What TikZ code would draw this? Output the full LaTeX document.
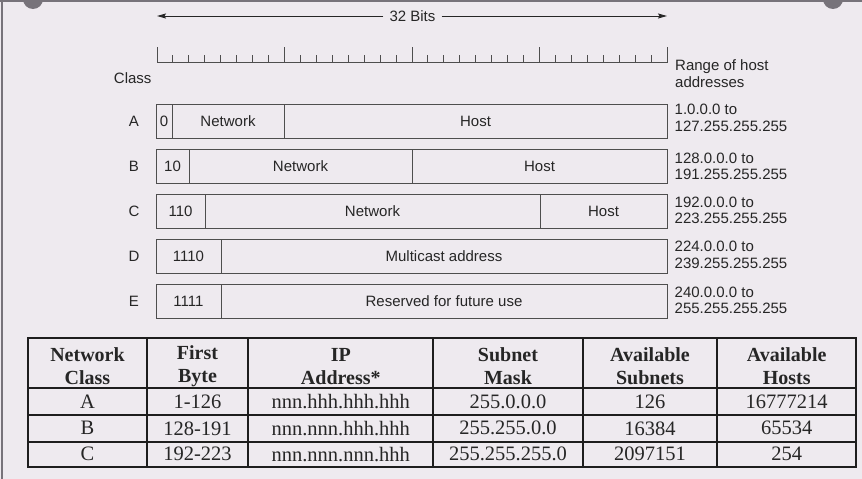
\documentclass[tikz,border=0pt]{standalone}
\usepackage{fontspec}
\setmainfont{Liberation Serif}
\newfontfamily\sansf{Liberation Sans}
\usetikzlibrary{arrows.meta}
\definecolor{bg}{HTML}{EEEAEF}
\definecolor{frame}{HTML}{77737A}
\definecolor{ink}{HTML}{262626}
\definecolor{boxline}{HTML}{4E4E4E}
\definecolor{tabline}{HTML}{1E1E1E}
\begin{document}
\begin{tikzpicture}[x=1pt,y=-1pt,
  lbl/.style={font=\sansf\fontsize{15}{16.6}\selectfont, text=ink, inner sep=0pt},
  field/.style={lbl, draw=boxline, line width=1pt, minimum height=34pt, outer sep=0pt, anchor=west},
  rulerline/.style={draw=boxline, line width=1pt},
  arrowline/.style={draw=ink, line width=0.9pt, -{Stealth[length=9pt,width=5pt,inset=1.5pt]}},
  cell/.style={font=\fontsize{20.5}{22.5}\selectfont, text=ink, inner sep=0pt, align=center},
  head/.style={cell, font=\bfseries\fontsize{20}{22.5}\selectfont},
  tline/.style={draw=tabline, line width=2pt, line cap=rect},
  ]
% background and frame
\useasboundingbox (0,0) rectangle (862,479);
\fill[bg] (0,0) rectangle (862,479);
\draw[frame, line width=2pt] (0,0.5) -- (862,0.5);
\draw[frame, line width=1.6pt] (2.2,0) -- (2.2,479);
\fill[frame] (33,-1) circle (10);
\fill[frame] (833,-1) circle (10);

% 32 bits arrow
\node[lbl, fill=bg, inner xsep=6pt] (bits) at (412.5,16) {32 Bits};
\coordinate (bl) at (157,16);
\coordinate (br) at (667,16);
\draw[arrowline] (bits.west) -- (bl);
\draw[arrowline] (bits.east) -- (br);

% ruler
\draw[rulerline] (157,62.5) -- (667,62.5);
\foreach \i in {0,...,32} \draw[rulerline] ({157+\i*15.9375},62.5) -- ++(0,-7.5);
\foreach \i in {0,8,16,24,32} \draw[rulerline] ({157+\i*15.9375},62.5) -- ++(0,-16);

\node[lbl] (classhdr) at (132.7,78.3) {Class};
\node[lbl, anchor=west, align=left] (rangehdr) at (675,73.7) {Range of host\\addresses};

% class A
\node[lbl] (cA) at (134,121.3) {A};
\node[field, minimum width=16pt] (A0) at (156,121.3) {0};
\node[field, minimum width=112pt] (A1) at (A0.east) {Network};
\node[field, minimum width=383pt] (A2) at (A1.east) {Host};
\node[lbl, anchor=west, align=left] (rA) at (674.5,118) {1.0.0.0 to\\127.255.255.255};

% class B
\node[lbl] (cB) at (134,166.3) {B};
\node[field, minimum width=33pt] (B0) at (156,166.3) {10};
\node[field, minimum width=223pt] (B1) at (B0.east) {Network};
\node[field, minimum width=255pt] (B2) at (B1.east) {Host};
\node[lbl, anchor=west, align=left] (rB) at (674.5,166.3) {128.0.0.0 to\\191.255.255.255};

% class C
\node[lbl] (cC) at (134,211.2) {C};
\node[field, minimum width=49pt] (C0) at (156,211.2) {110};
\node[field, minimum width=335pt] (C1) at (C0.east) {Network};
\node[field, minimum width=127pt] (C2) at (C1.east) {Host};
\node[lbl, anchor=west, align=left] (rC) at (674.5,210.3) {192.0.0.0 to\\223.255.255.255};

% class D
\node[lbl] (cD) at (134,256.3) {D};
\node[field, minimum width=65pt] (D0) at (156,256.3) {1110};
\node[field, minimum width=446pt] (D1) at (D0.east) {Multicast address};
\node[lbl, anchor=west, align=left] (rD) at (674.5,255) {224.0.0.0 to\\239.255.255.255};

% class E
\node[lbl] (cE) at (134,301.3) {E};
\node[field, minimum width=65pt] (E0) at (156,301.3) {1111};
\node[field, minimum width=446pt] (E1) at (E0.east) {Reserved for future use};
\node[lbl, anchor=west, align=left] (rE) at (674.5,300.3) {240.0.0.0 to\\255.255.255.255};

% table grid
\foreach \x in {28.3,146.7,248.3,433.3,582.7,717.3,856} \draw[tline] (\x,338.3) -- (\x,466.7);
\foreach \y in {338.3,388.3,415,441.7,466.7} \draw[tline] (28.3,\y) -- (856,\y);

% header
\node[head] (h1) at (87.5,366.3) {Network\\Class};
\node[head] (h2) at (197.5,366.3) {First\\Byte};
\node[head] (h3) at (340.8,366.3) {IP\\Address*};
\node[head] (h4) at (508,366.3) {Subnet\\Mask};
\node[head] (h5) at (650,366.3) {Available\\Subnets};
\node[head] (h6) at (786.7,366.3) {Available\\Hosts};

% rows
\node[cell] (a1) at (87.5,401.7) {A};
\node[cell] (a2) at (197.5,401.7) {1-126};
\node[cell] (a3) at (340.8,401.7) {nnn.hhh.hhh.hhh};
\node[cell] (a4) at (508,401.7) {255.0.0.0};
\node[cell] (a5) at (650,401.7) {126};
\node[cell] (a6) at (786.7,401.7) {16777214};

\node[cell] (b1) at (87.5,428.3) {B};
\node[cell] (b2) at (197.5,428.3) {128-191};
\node[cell] (b3) at (340.8,428.3) {nnn.nnn.hhh.hhh};
\node[cell] (b4) at (508,428.3) {255.255.0.0};
\node[cell] (b5) at (650,428.3) {16384};
\node[cell] (b6) at (786.7,428.3) {65534};

\node[cell] (c1) at (87.5,454.2) {C};
\node[cell] (c2) at (197.5,454.2) {192-223};
\node[cell] (c3) at (340.8,454.2) {nnn.nnn.nnn.hhh};
\node[cell] (c4) at (508,454.2) {255.255.255.0};
\node[cell] (c5) at (650,454.2) {2097151};
\node[cell] (c6) at (786.7,454.2) {254};
\end{tikzpicture}
\end{document}
